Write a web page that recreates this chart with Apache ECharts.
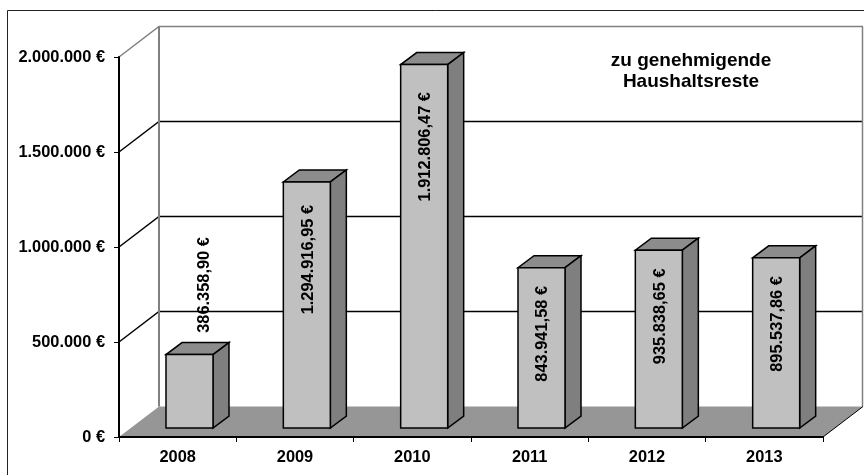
<!DOCTYPE html>
<html><head><meta charset="utf-8">
<style>html,body{margin:0;padding:0;background:#fff}#c{width:864px;height:475px}</style>
<script src="https://cdn.jsdelivr.net/npm/echarts@6/dist/echarts.min.js"></script>
</head><body><div id="c"></div>
<script>
const categories = ['2008','2009','2010','2011','2012','2013'];
const values = [386358.90,1294916.95,1912806.47,843941.58,935838.65,895537.86];
const valueLabels = ['386.358,90 €','1.294.916,95 €','1.912.806,47 €','843.941,58 €','935.838,65 €','895.537,86 €'];
const yTicks = [0,500000,1000000,1500000,2000000];
const titleLines = 'zu genehmigende\nHaushaltsreste';

const FONT = '"Liberation Sans", Arial, sans-serif';
const FS = 16.4;
const DX = 40, DY = -30.5;       // chart depth
const BAR_DX = 16, BAR_DY = -12; // bar depth
const OFF_DY = -9;               // bar distance from front floor edge
const BAR_LEFT = 47, BAR_W = 47;

const chart = echarts.init(document.getElementById('c'), null, {renderer:'canvas'});
const poly = (pts, fill, stroke, lw) => ({type:'polygon', shape:{points:pts}, style:{fill:fill, stroke:stroke||null, lineWidth:lw||0}});
const line = (pts, stroke, lw) => ({type:'polyline', shape:{points:pts}, style:{fill:null, stroke:stroke, lineWidth:lw}});

chart.setOption({
  animation:false,
  backgroundColor:'#fff',
  title:{text:titleLines,left:686,top:45,textAlign:'center',
    textStyle:{fontFamily:FONT,fontSize:19,fontWeight:'bold',color:'#000',lineHeight:21}},
  graphic:[{type:'polyline',silent:true,shape:{points:[[7.5,475],[7.5,10.5],[864,10.5]]},style:{fill:null,stroke:'#222',lineWidth:1}}],
  grid:{left:119,right:41,top:57,bottom:38},
  xAxis:{type:'category',data:categories,
    axisLine:{lineStyle:{color:'#000',width:2},onZero:false},
    axisTick:{show:true,length:5,alignWithLabel:false,lineStyle:{color:'#000',width:1}},
    axisLabel:{fontFamily:FONT,fontSize:FS,fontWeight:'bold',color:'#000',margin:12},
    z:5},
  yAxis:{type:'value',min:0,max:2000000,interval:500000,
    axisLine:{show:true,lineStyle:{color:'#000',width:2}},
    axisTick:{show:true,length:5,lineStyle:{color:'#000',width:1}},
    splitLine:{show:false},
    axisLabel:{fontFamily:FONT,fontSize:FS,fontWeight:'bold',color:'#000',margin:14,
      formatter:v=>v.toString().replace(/\B(?=(\d{3})+$)/g,'.')+' €'},
    z:5},
  series:[
    {type:'custom',z:1,silent:true,clip:false,coordinateSystem:'cartesian2d',
     data:yTicks.map(v=>[0,v]),
     renderItem(params,api){
       const p=api.coord([0,api.value(1)]);
       const half=api.size([1,0])[0]/2;
       const x0=p[0]-half, x1=x0+half*2*categories.length;
       const y=p[1], v=api.value(1);
       const children=[];
       if(v===0){
         children.push(poly([[x0,y],[x1,y],[x1+DX,y+DY],[x0+DX,y+DY]],'#969696'));
       } else {
         const c = v===2000000?'#808080':'#000';
         children.push(line([[x0,y],[x0+DX,y+DY],[x1+DX,y+DY]],c,1.5));
       }
       if(v===2000000){
         const h=api.coord([0,0])[1];
         children.push(line([[x0+DX,y+DY],[x0+DX,h+DY]],'#808080',2));
         children.push(line([[x1+DX-0.5,y+DY],[x1+DX-0.5,h+DY]],'#808080',1.5));
         children.push(line([[x1,h],[x1+DX,h+DY]],'#000',1));
       }
       return {type:'group',children};
     }},
    {type:'custom',z:2,silent:true,clip:false,coordinateSystem:'cartesian2d',
     data:values.map((v,i)=>[i,v]),
     renderItem(params,api){
       const i=api.value(0), v=api.value(1);
       const base=api.coord([i,0]), top=api.coord([i,v]);
       const half=api.size([1,0])[0]/2;
       const L=base[0]-half+BAR_LEFT, R=L+BAR_W;
       const yb=base[1]+OFF_DY, yt=top[1]+OFF_DY;
       const S='#000', W=1.5;
       return {type:'group',children:[
         poly([[L,yt],[R,yt],[R+BAR_DX,yt+BAR_DY],[L+BAR_DX,yt+BAR_DY]],'#8c8c8c',S,W),
         poly([[R,yt],[R+BAR_DX,yt+BAR_DY],[R+BAR_DX,yb+BAR_DY],[R,yb]],'#7f7f7f',S,W),
         poly([[L,yt],[R,yt],[R,yb],[L,yb]],'#c0c0c0',S,W)
       ]};
     }},
    {type:'custom',z:3,silent:true,clip:false,coordinateSystem:'cartesian2d',
     data:values.map((v,i)=>[i,v]),
     renderItem(params,api){
       const i=api.value(0), v=api.value(1);
       const base=api.coord([i,0]), top=api.coord([i,v]);
       const inside=v>500000;
       const x=base[0]+(inside?13:26.5);
       const y=inside?top[1]+(v>1500000?18.5:(v>1000000?14:9.3)):top[1]-126.5;
       return {type:'text',x:x,y:y,rotation:Math.PI/2,
         style:{text:valueLabels[i],fontFamily:FONT,fontSize:FS,fontWeight:'bold',fill:'#000',align:'right',verticalAlign:'middle'}};
     }}
  ]
});
</script></body></html>
